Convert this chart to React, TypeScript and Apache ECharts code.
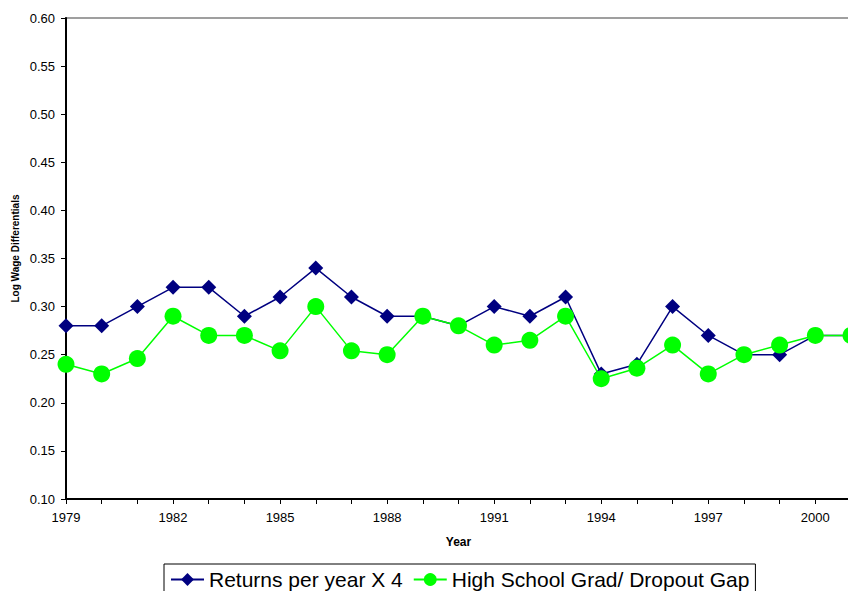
import React, { useEffect, useRef } from "react";
import * as echarts from "echarts";

const years = [1979, 1980, 1981, 1982, 1983, 1984, 1985, 1986, 1987, 1988, 1989, 1990, 1991, 1992, 1993, 1994, 1995, 1996, 1997, 1998, 1999, 2000, 2001];
const returnsX4 = [0.28, 0.28, 0.30, 0.32, 0.32, 0.29, 0.31, 0.34, 0.31, 0.29, 0.29, 0.28, 0.30, 0.29, 0.31, 0.23, 0.24, 0.30, 0.27, 0.25, 0.25, 0.27, 0.27];
const gradGap = [0.24, 0.23, 0.246, 0.29, 0.27, 0.27, 0.254, 0.30, 0.254, 0.25, 0.29, 0.28, 0.26, 0.265, 0.29, 0.225, 0.236, 0.26, 0.23, 0.25, 0.26, 0.27, 0.27];
const seriesNames = ["Returns per year X 4", "High School Grad/ Dropout Gap"];
const yTitle = "Log Wage Differentials";
const xTitle = "Year";

const FONT = "'Liberation Sans', Arial, sans-serif";

export default function App() {
  const ref = useRef<HTMLDivElement>(null);
  useEffect(() => {
    document.body.style.margin = "0";
    const chart = echarts.init(ref.current!, null, { renderer: "svg" });
    chart.setOption({
      animation: false,
      backgroundColor: "#ffffff",
      textStyle: { fontFamily: FONT, color: "#000" },
      grid: {
        left: 66,
        top: 18,
        right: 19,
        bottom: 92,
        show: true,
        borderColor: "#808080",
        borderWidth: 1.5,
        backgroundColor: "transparent",
      },
      xAxis: {
        type: "value",
        min: 1979,
        max: 2001,
        interval: 1,
        axisLine: { show: true, lineStyle: { color: "#000", width: 2 } },
        axisTick: { show: true, length: 5, lineStyle: { color: "#000", width: 1 } },
        axisLabel: {
          margin: 12,
          fontSize: 13,
          color: "#000",
          fontFamily: FONT,
          formatter: (v: number) => ((v - 1979) % 3 === 0 ? String(v) : ""),
        },
        splitLine: { show: false },
      },
      yAxis: {
        type: "value",
        min: 0.1,
        max: 0.6,
        interval: 0.05,
        axisLine: { show: true, lineStyle: { color: "#000", width: 2 } },
        axisTick: { show: true, length: 5, lineStyle: { color: "#000", width: 1 } },
        axisLabel: {
          margin: 11,
          fontSize: 13,
          color: "#000",
          fontFamily: FONT,
          formatter: (v: number) => v.toFixed(2),
        },
        splitLine: { show: false },
      },
      legend: {
        left: 164,
        top: 564,
        orient: "horizontal",
        padding: [5, 6, 20, 6],
        borderColor: "#000",
        borderWidth: 1,
        itemWidth: 33,
        itemHeight: 16,
        itemGap: 10,
        textStyle: { fontSize: 21, color: "#000", fontFamily: FONT },
        data: seriesNames,
      },
      graphic: [
        {
          type: "text",
          x: 15.5,
          y: 248.5,
          rotation: Math.PI / 2,
          style: {
            text: yTitle,
            font: `bold 10px ${FONT}`,
            fill: "#000",
            textAlign: "center",
            textVerticalAlign: "middle",
          },
        },
        {
          type: "text",
          x: 458.5,
          y: 541.5,
          style: {
            text: xTitle,
            font: `bold 12px ${FONT}`,
            fill: "#000",
            textAlign: "center",
            textVerticalAlign: "middle",
          },
        },
      ],
      series: [
        {
          name: seriesNames[0],
          type: "line",
          data: years.map((y, i) => [y, returnsX4[i]]),
          symbol: "diamond",
          symbolSize: 15,
          itemStyle: { color: "#000080" },
          lineStyle: { color: "#000080", width: 1.5 },
          z: 2,
        },
        {
          name: seriesNames[1],
          type: "line",
          data: years.map((y, i) => [y, gradGap[i]]),
          symbol: "circle",
          symbolSize: 17,
          itemStyle: { color: "#00FF00" },
          lineStyle: { color: "#00FF00", width: 1.5 },
          z: 3,
        },
      ],
    });
    return () => chart.dispose();
  }, []);
  return (
    <div style={{ width: 848, height: 591, overflow: "hidden", position: "relative" }}>
      <div ref={ref} style={{ width: 870, height: 591 }} />
    </div>
  );
}
